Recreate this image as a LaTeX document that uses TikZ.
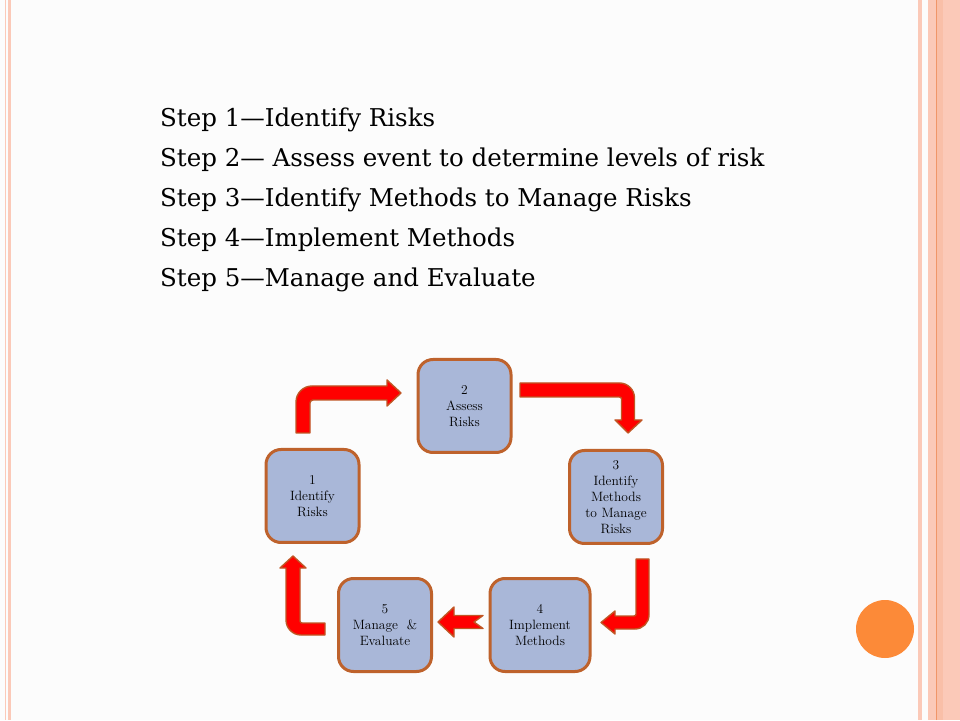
\documentclass[tikz,border=0pt]{standalone}
\usepackage{tikz}
\usepackage{fontspec}
\newfontfamily\stepfont[Ligatures=TeX]{DejaVu Serif}

\definecolor{peach}{RGB}{251,201,184}
\definecolor{peachline}{RGB}{240,150,105}
\definecolor{boxfill}{RGB}{169,183,216}
\definecolor{boxedge}{RGB}{190,98,44}
\definecolor{arrowedge}{RGB}{192,86,36}
\definecolor{dotorange}{RGB}{252,138,56}

\tikzset{
    stepbox/.style={draw=boxedge, fill=boxfill, line width=3pt, rounded corners=15pt,
        minimum width=93pt, minimum height=93pt, inner sep=2pt, align=center,
        font=\fontsize{13.5}{16}\selectfont},
    blockarrow/.style={fill=red, draw=arrowedge, line width=1.4pt, line join=round},
}

\begin{document}
\begin{tikzpicture}[x=1pt, y=1pt]
            \useasboundingbox (0,0) rectangle (960,720);
            \fill[white!99!black] (0,0) rectangle (960,720);

            % Side stripes
            \fill[peach] (5,0) rectangle (6.3,720);
            \fill[peach] (7.5,0) rectangle (11,720);
            \fill[peach] (917.5,0) rectangle (922,720);
            \fill[peach] (928,0) rectangle (960,720);
            \fill[peach!80!peachline] (937,0) rectangle (943,720);
            \draw[peachline, line width=1pt] (936.5,0) -- (936.5,720);

            % Orange dot
            \fill[dotorange] (885,91) circle (29);

            % Step list
            \node[anchor=base west, align=left, inner sep=0pt, font=\stepfont\fontsize{24.5}{40}\selectfont] (steps) at (160,433)
                {Step 1---Identify Risks\\
                 Step 2--- Assess event to determine levels of risk\\
                 Step 3---Identify Methods to Manage Risks\\
                 Step 4---Implement Methods\\
                 Step 5---Manage and Evaluate};

            % Cycle boxes
            \node[stepbox] (identify) at (312.5,224) {1\\Identify\\Risks};
            \node[stepbox] (assess) at (464.5,314) {2\\Assess\\Risks};
            \node[stepbox] (methods) at (616,223) {3\\Identify\\Methods\\to Manage\\Risks};
            \node[stepbox, minimum width=100pt] (implement) at (540,95) {4\\Implement\\Methods};
            \node[stepbox] (evaluate) at (385,95) {5\\Manage\ \ \&\\Evaluate};

            % 1 -> 2
            \filldraw[blockarrow]
            (310,287) -- (296,287)                          % Bottom of stem
            -- (296,318) arc[start angle=180, end angle=90, radius=16]  % Outer bend
            -- (387,334) -- (387,340) -- (401,327)          % Head, upper half
            -- (387,314) -- (387,320)                       % Head, lower half
            -- (313,320) arc[start angle=90, end angle=180, radius=3]   % Inner bend
            -- cycle;

            % 2 -> 3
            \filldraw[blockarrow]
            (520,337) -- (619.5,337) arc[start angle=90, end angle=0, radius=15]
            -- (634.5,300) -- (642,300) -- (628,287)
            -- (615,300) -- (621.5,300)
            -- (621.5,321) arc[start angle=0, end angle=90, radius=2]
            -- (520,323) -- cycle;

            % 3 -> 4
            \filldraw[blockarrow]
            (636,161) -- (649,161)
            -- (649,105) arc[start angle=0, end angle=-90, radius=14]
            -- (615,91) -- (615,86) -- (601,97.5)
            -- (615,109) -- (615,104)
            -- (634,104) arc[start angle=-90, end angle=0, radius=2]
            -- cycle;

            % 4 -> 5 (notched tail)
            \filldraw[blockarrow]
            (483,104.5) -- (454,104.5) -- (454,113) -- (438,98)
            -- (454,83) -- (454,91.5) -- (483,91.5)
            -- (474,98) -- cycle;

            % 5 -> 1
            \filldraw[blockarrow]
            (325,97) -- (302,97) arc[start angle=-90, end angle=-180, radius=2]
            -- (300,152) -- (306,152) -- (293,164)
            -- (280,152) -- (286,152)
            -- (286,100) arc[start angle=180, end angle=270, radius=15]
            -- (325,85) -- cycle;
        \end{tikzpicture}
\end{document}
